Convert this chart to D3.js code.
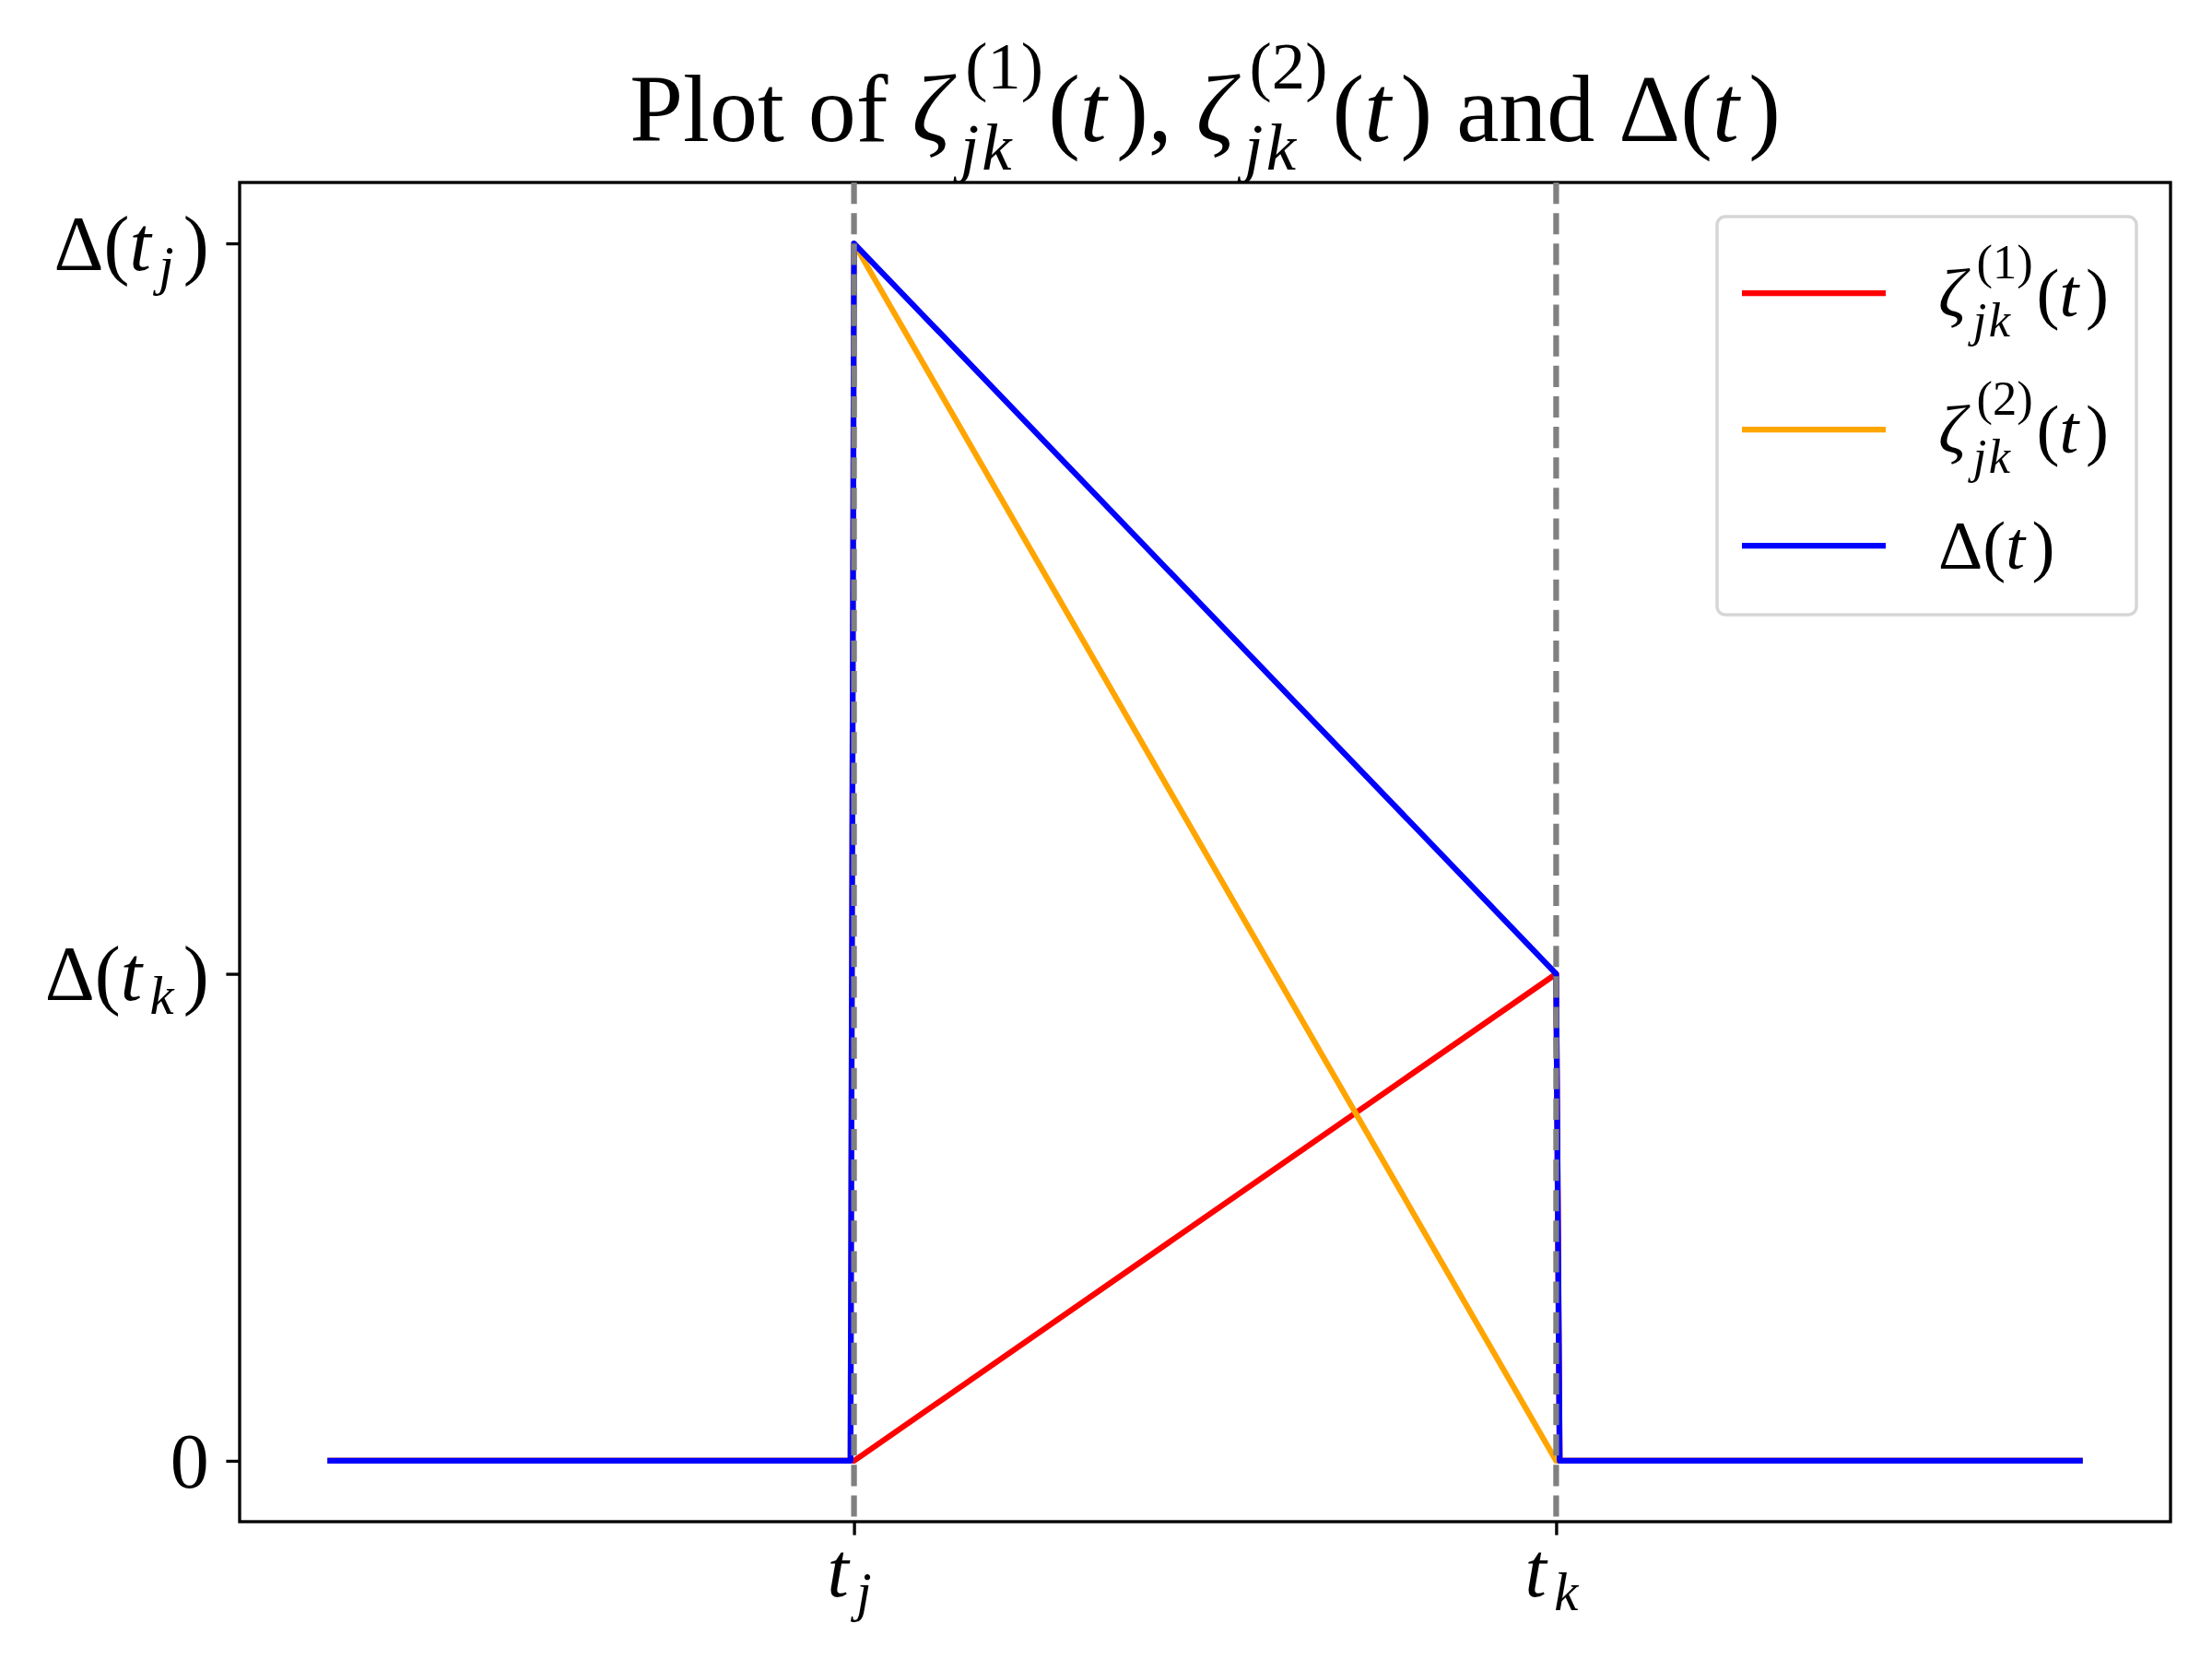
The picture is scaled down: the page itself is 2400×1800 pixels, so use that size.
<!DOCTYPE html>
<meta charset="utf-8">
<html>
<head>
<style>
body { margin: 0; background: #fff; }
text { font-family: "Liberation Serif", "DejaVu Serif", serif; fill: #000; }
</style>
</head>
<body>
<svg width="2400" height="1800"></svg>
<script src="https://cdn.jsdelivr.net/npm/d3@7"></script>
<script>

// data (t on [0,10], delta normalised so that Delta(t_j) = 1)
var tj = 3, tk = 7;
var deltaTj = 1, deltaTk = 0.4;

var zeta1T = [0, 3, 7, 7.02, 10];
var zeta1V = [0, 0, 0.4, 0, 0];
var zeta2T = [0, 2.98, 3, 7, 10];
var zeta2V = [0, 0, 1, 0, 0];
var deltaT = [0, 2.98, 3, 7, 7.02, 10];
var deltaV = [0, 0, 1, 0.4, 0, 0];

var xTicks = [tj, tk];
var yTicks = [0, deltaTk, deltaTj];

var svg = d3.select("svg"),
    axL = 260, axR = 2355, axT = 198, axB = 1651;

var x = d3.scaleLinear().domain([-0.5, 10.5]).range([axL, axR]);
var y = d3.scaleLinear().domain([-0.05, 1.05]).range([axB, axT]);

var px = 300 / 72;  // points -> pixels at 300 dpi

// lay out a little piece of math as a row of text nodes
function mathLabel(parent, x0, y0, parts, size, anchor) {
  var g = parent.append("g");
  var cx = 0;
  parts.forEach(function(p) {
    if (p.sub !== undefined || p.sup !== undefined) {
      var w = 0;
      if (p.sup) {
        var s = g.append("text").attr("x", cx + 0.05 * size).attr("y", -p.up * size)
          .style("font-size", size * 0.7 + "px").text(p.sup);
        w = Math.max(w, s.node().getComputedTextLength() + 0.05 * size);
      }
      if (p.sub) {
        var b = g.append("text").attr("x", cx).attr("y", p.down * size)
          .style("font-size", size * 0.7 + "px").style("font-style", "italic")
          .style("letter-spacing", 0.03 * size + "px").text(p.sub);
        w = Math.max(w, b.node().getComputedTextLength() + 0.04 * size);
      }
      cx += w + 0.05 * size;
    } else {
      var t = g.append("text").attr("x", cx).attr("y", 0)
        .style("font-size", size + "px")
        .style("font-style", p.it ? "italic" : "normal")
        .text(p.t);
      cx += t.node().getComputedTextLength() + (p.it ? 0.1 * size : 0);
    }
  });
  var dx = anchor === "end" ? -cx : anchor === "middle" ? -cx / 2 : 0;
  g.attr("transform", "translate(" + (x0 + dx) + "," + y0 + ")");
  return g;
}

function zetaParts(n) {
  return [{t: "ζ", it: true}, {sup: "(" + n + ")", sub: "jk", up: 0.55, down: 0.3},
          {t: "("}, {t: "t", it: true}, {t: ")"}];
}
var deltaParts = [{t: "Δ("}, {t: "t", it: true}, {t: ")"}];

// frame
svg.append("rect")
  .attr("x", axL).attr("y", axT)
  .attr("width", axR - axL).attr("height", axB - axT)
  .attr("fill", "none").attr("stroke", "#000").attr("stroke-width", 0.8 * px);

// axes (ticks only, labels are drawn as math below)
svg.append("g")
  .attr("transform", "translate(0," + axB + ")")
  .call(d3.axisBottom(x).tickValues(xTicks).tickFormat("").tickSize(3.5 * px).tickSizeOuter(0))
  .call(function(g) { g.select(".domain").remove(); })
  .selectAll("line").attr("stroke-width", 0.8 * px);

svg.append("g")
  .attr("transform", "translate(" + axL + ",0)")
  .call(d3.axisLeft(y).tickValues(yTicks).tickFormat("").tickSize(3.5 * px).tickSizeOuter(0))
  .call(function(g) { g.select(".domain").remove(); })
  .selectAll("line").attr("stroke-width", 0.8 * px);

var tickFont = 84;
var xLabels = [[{t: "t", it: true}, {sub: "j", down: 0.18}],
               [{t: "t", it: true}, {sub: "k", down: 0.18}]];
xTicks.forEach(function(v, i) {
  mathLabel(svg, x(v), axB + 81, xLabels[i], tickFont, "middle");
});

var yLabels = [[{t: "0"}],
               [{t: "Δ("}, {t: "t", it: true}, {sub: "k", down: 0.18}, {t: ")"}],
               [{t: "Δ("}, {t: "t", it: true}, {sub: "j", down: 0.18}, {t: ")"}]];
yTicks.forEach(function(v, i) {
  mathLabel(svg, axL - 8 * px, y(v) + 0.34 * tickFont, yLabels[i], tickFont, "end");
});

// series
var line = d3.line().x(function(d) { return x(d[0]); }).y(function(d) { return y(d[1]); });
var series = [
  {t: zeta1T, v: zeta1V, color: "#ff0000", label: zetaParts(1)},
  {t: zeta2T, v: zeta2V, color: "#ffa500", label: zetaParts(2)},
  {t: deltaT, v: deltaV, color: "#0000ff", label: deltaParts}
];
series.forEach(function(s) {
  svg.append("path")
    .datum(d3.zip(s.t, s.v))
    .attr("d", line)
    .attr("fill", "none")
    .attr("stroke", s.color)
    .attr("stroke-width", 1.5 * px)
    .attr("stroke-linejoin", "round");
});

// dashed markers at t_j and t_k
xTicks.forEach(function(v) {
  svg.append("line")
    .attr("x1", x(v)).attr("x2", x(v))
    .attr("y1", axT).attr("y2", axB)
    .attr("stroke", "#808080")
    .attr("stroke-width", 1.5 * px)
    .attr("stroke-dasharray", (3.7 * 1.5 * px) + "," + (1.6 * 1.5 * px));
});

// legend
var legFont = 75;
svg.append("rect")
  .attr("x", 1863).attr("y", 235).attr("width", 455).attr("height", 432)
  .attr("rx", 9).attr("ry", 9)
  .attr("fill", "#fff").attr("fill-opacity", 0.8)
  .attr("stroke", "#d6d6d6").attr("stroke-width", 3.5);
var rowY = [318, 466, 592];
series.forEach(function(s, i) {
  svg.append("line")
    .attr("x1", 1890).attr("x2", 2046)
    .attr("y1", rowY[i]).attr("y2", rowY[i])
    .attr("stroke", s.color).attr("stroke-width", 1.5 * px);
  mathLabel(svg, 2103, rowY[i] + 0.33 * legFont, s.label, legFont, "start");
});

// title
var titleParts = [{t: "Plot of\u00a0"}].concat(
  zetaParts(1), [{t: ",\u00a0"}], zetaParts(2), [{t: "\u00a0and\u00a0"}], deltaParts);
mathLabel(svg, (axL + axR) / 2, 153, titleParts, 104, "middle");

</script>
</body>
</html>
